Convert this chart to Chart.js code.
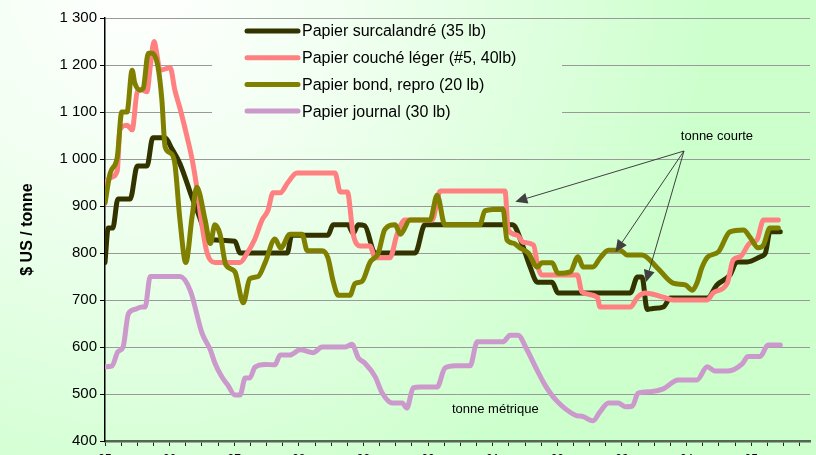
<!DOCTYPE html>
<html lang="fr">
<head>
<meta charset="utf-8">
<script src="https://cdn.jsdelivr.net/npm/chart.js@4.4.1/dist/chart.umd.min.js"></script>
<style>
    html, body { margin: 0; padding: 0; overflow: hidden; width: 816px; height: 455px; }
    #wrap { width: 816px; height: 470px; }
</style>
</head>
<body>
<div id="wrap"><canvas id="priceChart" width="816" height="470"></canvas></div>
<script>
// Series: [year, $ US / tonne]
const surcalandre = [
    [1995.00, 780], [1995.05, 853], [1995.12, 853], [1995.20, 915], [1995.39, 915],
    [1995.50, 985], [1995.65, 985], [1995.74, 1045], [1995.93, 1045], [1996.03, 1023],
    [1996.16, 990], [1996.36, 913], [1996.44, 885], [1996.55, 845], [1996.66, 828],
    [1997.01, 825], [1997.09, 800], [1997.82, 800], [1997.89, 838], [1998.45, 838],
    [1998.53, 860], [1998.76, 860], [1998.84, 842], [1998.92, 860], [1999.02, 858],
    [1999.18, 800], [1999.80, 800], [1999.95, 860], [2001.30, 860], [2001.35, 855],
    [2001.47, 813], [2001.58, 770], [2001.69, 738], [2001.92, 738], [2002.01, 715],
    [2003.13, 715], [2003.24, 749], [2003.31, 749], [2003.39, 680], [2003.48, 682],
    [2003.64, 685], [2003.75, 704], [2004.32, 704], [2004.47, 732], [2004.67, 753],
    [2004.78, 781], [2004.94, 781], [2005.14, 792], [2005.22, 800], [2005.29, 845],
    [2005.45, 845]
];
const coucheLeger = [
    [1995.00, 950], [1995.11, 962], [1995.19, 975], [1995.23, 1062], [1995.34, 1072],
    [1995.42, 1062], [1995.50, 1143], [1995.57, 1147], [1995.65, 1143], [1995.70, 1196],
    [1995.76, 1250], [1995.80, 1225], [1995.85, 1189], [1996.01, 1194], [1996.08, 1147],
    [1996.16, 1108], [1996.27, 1047], [1996.35, 998], [1996.42, 940], [1996.50, 860],
    [1996.58, 800], [1996.70, 780], [1997.09, 780], [1997.20, 800], [1997.32, 830],
    [1997.43, 870], [1997.52, 890], [1997.60, 928], [1997.71, 928], [1997.83, 950],
    [1997.97, 970], [1998.56, 970], [1998.64, 930], [1998.75, 930], [1998.84, 840],
    [1998.95, 815], [1999.10, 815], [1999.18, 790], [1999.41, 790], [1999.52, 840],
    [1999.64, 870], [2000.06, 870], [2000.19, 932], [2001.19, 932], [2001.24, 849],
    [2001.38, 838], [2001.47, 823], [2001.63, 817], [2001.70, 770], [2001.76, 753],
    [2002.31, 753], [2002.38, 717], [2002.62, 706], [2002.66, 685], [2003.13, 685],
    [2003.24, 706], [2003.36, 715], [2003.64, 706], [2003.79, 700], [2004.32, 700],
    [2004.41, 715], [2004.63, 736], [2004.72, 785], [2004.83, 792], [2004.98, 821],
    [2005.09, 828], [2005.19, 870], [2005.42, 870]
];
const bondRepro = [
    [1995.00, 906], [1995.08, 970], [1995.19, 1004], [1995.26, 1100], [1995.34, 1100],
    [1995.42, 1189], [1995.46, 1162], [1995.54, 1147], [1995.59, 1150], [1995.67, 1225],
    [1995.73, 1225], [1995.82, 1196], [1995.88, 1126], [1995.93, 1026], [1996.01, 1013],
    [1996.08, 991], [1996.16, 870], [1996.25, 780], [1996.35, 880], [1996.42, 940],
    [1996.55, 870], [1996.63, 820], [1996.70, 860], [1996.78, 840], [1996.87, 775],
    [1997.01, 760], [1997.14, 694], [1997.24, 745], [1997.37, 750], [1997.48, 780],
    [1997.63, 830], [1997.72, 810], [1997.86, 840], [1998.05, 840], [1998.13, 805],
    [1998.36, 805], [1998.45, 790], [1998.53, 740], [1998.61, 710], [1998.79, 710],
    [1998.87, 735], [1998.98, 740], [1999.10, 780], [1999.23, 800], [1999.33, 850],
    [1999.49, 860], [1999.57, 840], [1999.72, 870], [2000.03, 870], [2000.14, 923],
    [2000.26, 860], [2000.80, 860], [2000.88, 890], [2001.16, 893], [2001.22, 828],
    [2001.32, 821], [2001.42, 811], [2001.55, 800], [2001.69, 770], [2001.76, 779],
    [2001.92, 779], [2002.01, 757], [2002.20, 760], [2002.32, 792], [2002.40, 770],
    [2002.55, 770], [2002.66, 789], [2002.79, 806], [2002.97, 806], [2003.08, 796],
    [2003.31, 796], [2003.55, 768], [2003.79, 736], [2003.98, 732], [2004.09, 721],
    [2004.16, 736], [2004.24, 770], [2004.33, 792], [2004.49, 802], [2004.67, 845],
    [2004.88, 849], [2004.98, 834], [2005.11, 811], [2005.19, 817], [2005.29, 853],
    [2005.42, 853]
];
const journal = [
    [1995.00, 558], [1995.11, 560], [1995.20, 590], [1995.28, 600], [1995.36, 670],
    [1995.46, 680], [1995.57, 685], [1995.62, 685], [1995.70, 750], [1996.16, 750],
    [1996.32, 720], [1996.50, 630], [1996.63, 594], [1996.70, 566], [1996.81, 536],
    [1996.90, 519], [1997.01, 498], [1997.09, 498], [1997.17, 534], [1997.24, 534],
    [1997.32, 557], [1997.48, 563], [1997.63, 562], [1997.71, 583], [1997.86, 583],
    [1998.02, 594], [1998.22, 588], [1998.36, 600], [1998.72, 600], [1998.82, 606],
    [1998.92, 577], [1999.02, 566], [1999.18, 537], [1999.29, 502], [1999.44, 481],
    [1999.60, 481], [1999.67, 470], [1999.77, 513], [1999.88, 515], [2000.14, 515],
    [2000.26, 555], [2000.42, 560], [2000.65, 560], [2000.76, 611], [2001.16, 611],
    [2001.27, 625], [2001.39, 625], [2001.53, 594], [2001.66, 558], [2001.81, 519],
    [2001.98, 487], [2002.28, 455], [2002.40, 452], [2002.55, 443], [2002.66, 462],
    [2002.79, 481], [2002.94, 481], [2003.05, 473], [2003.16, 474], [2003.25, 502],
    [2003.44, 505], [2003.64, 511], [2003.87, 530], [2004.16, 530], [2004.32, 558],
    [2004.44, 549], [2004.64, 549], [2004.86, 564], [2004.95, 580], [2005.14, 580],
    [2005.26, 604], [2005.45, 604]
];

const seriesLabels = [
    'Papier surcalandré (35 lb)',
    'Papier couché léger (#5, 40lb)',
    'Papier bond, repro (20 lb)',
    'Papier journal (30 lb)'
];
const seriesColors = ['#333300', '#ff8080', '#808000', '#cc99cc'];

// Annotation anchors, in data units
const courteLabel = [2004.47, 1049];
const arrowFrom = [2003.96, 1017];
const arrowTips = [[2001.35, 909], [2002.90, 802], [2003.37, 738]];
const metriqueLabel = [2001.04, 468];

const FONT = '"Liberation Sans", Arial, sans-serif';

// Light green wash, whiter towards the top left
function paperGradient(ctx) {
    const g = ctx.createRadialGradient(140, -20, 0, 140, -20, 580);
    g.addColorStop(0, '#ffffff');
    g.addColorStop(0.35, '#f2fff2');
    g.addColorStop(1, '#ccffcc');
    return g;
}

const backdrop = {
    id: 'backdrop',
    beforeDraw(chart) {
        const { ctx, width, height } = chart;
        ctx.save();
        ctx.fillStyle = paperGradient(ctx);
        ctx.fillRect(0, 0, width, height);
        ctx.restore();
    }
};

// Legend sits over the grid, under the lines
const legendBox = {
    id: 'legendBox',
    beforeDatasetsDraw(chart) {
        const ctx = chart.ctx;
        ctx.save();
        ctx.fillStyle = paperGradient(ctx);
        ctx.fillRect(212, 22, 350, 102);
        ctx.font = '16px ' + FONT;
        ctx.textBaseline = 'middle';
        ctx.lineCap = 'round';
        ctx.lineWidth = 5;
        chart.data.datasets.forEach((ds, i) => {
            const y = 31 + i * 26.7;
            ctx.strokeStyle = ds.borderColor;
            ctx.beginPath();
            ctx.moveTo(247, y);
            ctx.lineTo(298, y);
            ctx.stroke();
            ctx.fillStyle = '#000';
            ctx.fillText(ds.label, 302, y + 1);
        });
        ctx.restore();
    }
};

const notes = {
    id: 'notes',
    afterDatasetsDraw(chart) {
        const { ctx, scales: { x, y } } = chart;
        const toPx = p => [x.getPixelForValue(p[0]), y.getPixelForValue(p[1])];
        ctx.save();
        ctx.font = '13px ' + FONT;
        ctx.fillStyle = '#000';
        ctx.textAlign = 'center';
        ctx.textBaseline = 'middle';
        let p = toPx(courteLabel);
        ctx.fillText('tonne courte', p[0], p[1]);
        p = toPx(metriqueLabel);
        ctx.fillText('tonne métrique', p[0], p[1]);

        const [ox, oy] = toPx(arrowFrom);
        ctx.strokeStyle = '#404040';
        ctx.fillStyle = '#404040';
        ctx.lineWidth = 1;
        arrowTips.forEach(tip => {
            const [tx, ty] = toPx(tip);
            const a = Math.atan2(ty - oy, tx - ox);
            const len = 12, half = 5.5;
            const bx = tx - len * Math.cos(a), by = ty - len * Math.sin(a);
            ctx.beginPath();
            ctx.moveTo(ox, oy);
            ctx.lineTo(bx, by);
            ctx.stroke();
            ctx.beginPath();
            ctx.moveTo(tx, ty);
            ctx.lineTo(bx + half * Math.sin(a), by - half * Math.cos(a));
            ctx.lineTo(bx - half * Math.sin(a), by + half * Math.cos(a));
            ctx.closePath();
            ctx.fill();
        });
        ctx.restore();
    }
};

function formatThousands(v) {
    if (v < 1000) return String(v);
    return Math.floor(v / 1000) + ' ' + String(v % 1000).padStart(3, '0');
}

const allSeries = [surcalandre, coucheLeger, bondRepro, journal];

new Chart(document.getElementById('priceChart'), {
    type: 'line',
    data: {
        datasets: allSeries.map((s, i) => ({
            label: seriesLabels[i],
            data: s.map(([x, y]) => ({ x, y })),
            borderColor: seriesColors[i],
            borderWidth: 5,
            borderCapStyle: 'round',
            borderJoinStyle: 'round',
            pointRadius: 0,
            cubicInterpolationMode: 'monotone',
            fill: false,
            order: 4 - i
        }))
    },
    options: {
        responsive: false,
        animation: false,
        layout: { padding: { top: 18, right: 6, left: 0, bottom: 0 } },
        plugins: {
            legend: { display: false },
            tooltip: { enabled: false }
        },
        scales: {
            x: {
                type: 'linear',
                min: 1995,
                max: 2005.91,
                afterFit: scale => { scale.height = 29; },
                border: { color: '#556655', width: 2.5 },
                grid: {
                    drawOnChartArea: false,
                    drawTicks: true,
                    tickLength: 5,
                    tickColor: '#222'
                },
                ticks: {
                    stepSize: 0.25,
                    autoSkip: false,
                    includeBounds: false,
                    maxRotation: 0,
                    padding: 6,
                    color: '#000',
                    font: { family: FONT, size: 12 },
                    callback: value => {
                        const r = Math.round(value);
                        return Math.abs(value - r) < 1e-6 ? String(r).slice(2) : '';
                    }
                }
            },
            y: {
                min: 400,
                max: 1300,
                afterFit: scale => { scale.width = 105; },
                border: { color: '#000', width: 1.5 },
                grid: {
                    color: '#999999',
                    lineWidth: 1,
                    tickLength: 5,
                    tickColor: '#000'
                },
                ticks: {
                    stepSize: 100,
                    padding: 3,
                    color: '#000',
                    font: { family: FONT, size: 15 },
                    callback: v => formatThousands(v)
                },
                title: {
                    display: true,
                    text: '$ US / tonne',
                    color: '#000',
                    padding: { top: 18, bottom: 0 },
                    font: { family: FONT, size: 16, weight: 'bold' }
                }
            }
        }
    },
    plugins: [backdrop, legendBox, notes]
});
</script>
</body>
</html>
